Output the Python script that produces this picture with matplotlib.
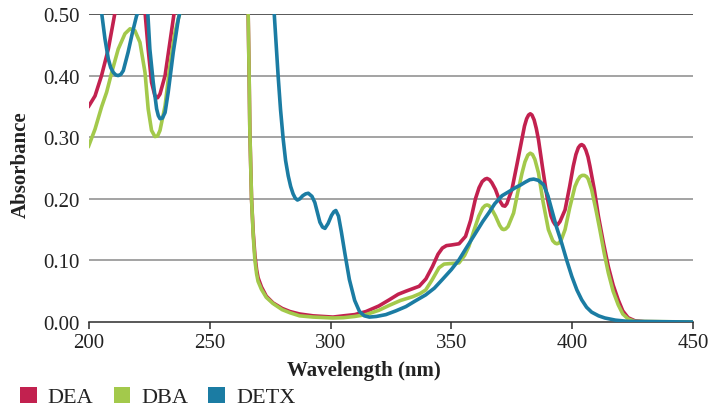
import numpy as np
import matplotlib.pyplot as plt
from matplotlib.patches import Patch

# wavelength (nm) / absorbance; values above 0.5 run off the plot
dea_wl = [199.7, 202.5, 205.2, 208, 210.8, 212.5, 221.5, 223.2, 224.5, 225.9, 227.3, 228.4,
          229.4, 231.5, 233.5, 235.3, 237, 264.8, 265.9, 266.3, 266.6, 267.3, 268, 268.7,
          269.4, 270, 271.4, 273.4, 276.2, 280, 283.2, 287.2, 292.8, 301, 305.3, 310, 314.7,
          320, 324.3, 328, 331.2, 336.7, 339.5, 342.2, 344.5, 346.3, 348, 350, 353.2, 355.9,
          358, 360, 361.5, 362.8, 364, 364.8, 365.8, 366.8, 368.3, 370, 371.3, 372.2, 373,
          375.1, 377.3, 379.3, 380.3, 381.2, 382, 382.7, 383.4, 384.3, 385.2, 386.1, 387.8,
          389.6, 391.3, 392.2, 393, 394, 395, 397.1, 399, 400.5, 401.6, 402.6, 403.4, 404,
          404.8, 405.7, 406.6, 407.4, 409.2, 410.9, 413, 415, 417, 419.1, 421, 423.2, 426,
          430, 450]
dea_abs = [0.349, 0.367, 0.40, 0.443, 0.503, 0.56, 0.56, 0.503, 0.443, 0.389, 0.367, 0.364,
           0.37, 0.40, 0.454, 0.503, 0.56, 0.6, 0.50, 0.40, 0.31, 0.20, 0.145, 0.108,
           0.085, 0.072, 0.057, 0.042, 0.031, 0.022, 0.017, 0.013, 0.010, 0.008, 0.010, 0.012,
           0.017, 0.026, 0.036, 0.045, 0.050, 0.058, 0.070, 0.090, 0.110, 0.120, 0.124, 0.125,
           0.127, 0.139, 0.165, 0.200, 0.218, 0.228, 0.232, 0.233, 0.231, 0.226, 0.215, 0.197,
           0.189, 0.188, 0.192, 0.215, 0.258, 0.298, 0.318, 0.330, 0.336, 0.338, 0.336, 0.328,
           0.314, 0.296, 0.250, 0.204, 0.172, 0.163, 0.158, 0.158, 0.163, 0.182, 0.220, 0.253,
           0.272, 0.283, 0.287, 0.288, 0.286, 0.279, 0.268, 0.253, 0.215, 0.172, 0.128, 0.090,
           0.060, 0.036, 0.018, 0.007, 0.002, 0.0005, 0.0]

dba_wl = [199.7, 202.5, 205.2, 207.3, 209.4, 212.1, 214.9, 217, 219, 221.1, 223.2, 224.5,
          225.9, 227.3, 228.4, 229.4, 231.5, 233.5, 235.6, 237.7, 239, 264.8, 265.9, 266.3,
          266.6, 267.3, 268, 268.7, 269.4, 270, 271.4, 273.4, 276.2, 280, 283.2, 287.2, 292.8,
          301, 305.3, 310, 314.7, 320, 324.3, 329, 334, 337, 339.4, 342, 344.9, 347, 350,
          353.2, 355.5, 357.3, 359.5, 361.4, 363, 364, 364.8, 365.6, 366.5, 368.3, 370, 371,
          371.7, 372.5, 373.5, 375.8, 377.5, 379.3, 380.5, 381.7, 382.7, 383.6, 384.6, 386.1,
          388, 390.2, 392, 393, 393.7, 394.5, 395.5, 397.1, 399, 401.2, 402.3, 403.3, 404.2,
          405.1, 406, 406.7, 408.1, 410, 411.5, 413.3, 415, 417, 419.1, 421, 423.2, 426, 450]
dba_abs = [0.284, 0.313, 0.349, 0.373, 0.405, 0.443, 0.468, 0.476, 0.473, 0.454, 0.405, 0.346,
           0.311, 0.301, 0.302, 0.311, 0.351, 0.416, 0.47, 0.503, 0.56, 0.6, 0.50, 0.40,
           0.31, 0.20, 0.14, 0.10, 0.078, 0.066, 0.053, 0.040, 0.030, 0.020, 0.015, 0.010,
           0.008, 0.0065, 0.007, 0.009, 0.012, 0.019, 0.027, 0.035, 0.041, 0.046, 0.052,
           0.068, 0.088, 0.094, 0.095, 0.096, 0.108, 0.123, 0.150, 0.172, 0.185, 0.189, 0.190,
           0.189, 0.185, 0.172, 0.157, 0.151, 0.150, 0.151, 0.155, 0.177, 0.210, 0.242, 0.260,
           0.271, 0.274, 0.272, 0.264, 0.242, 0.195, 0.150, 0.132, 0.128, 0.127, 0.128, 0.133,
           0.150, 0.185, 0.220, 0.230, 0.236, 0.238, 0.238, 0.236, 0.232, 0.215, 0.180, 0.150,
           0.112, 0.080, 0.050, 0.028, 0.013, 0.005, 0.001, 0.0]

detx_wl = [204.5, 205.2, 206.6, 208, 209, 210.1, 211.1, 212.1, 213.2, 214.2, 216.2, 218,
           219.7, 221.1, 222.7, 224.3, 225.2, 226.6, 228, 228.7, 229.4, 230.4, 231.5, 232.8,
           234.9, 237, 237.7, 239, 276, 276.7, 277.5, 278.3, 279.3, 280.4, 281.4, 282.5,
           283.5, 284.5, 285.4, 286.3, 287.3, 288.5, 289.7, 290.8, 292.3, 293.5, 295.6, 296.7,
           297.7, 299, 300.4, 301.4, 302.2, 303.3, 304.5, 306, 307.8, 310, 312, 314, 316.1,
           319, 322.9, 327, 331.2, 335, 339.4, 343, 346.3, 350, 353.2, 356.5, 360, 363, 365.5,
           368, 371, 374, 376.5, 378.5, 380.6, 382.5, 384.1, 386, 388.2, 390, 391.6, 393.5,
           395.7, 397.8, 399.9, 402, 404, 406, 408.1, 411, 413.6, 418, 423.2, 450]
detx_abs = [0.54, 0.503, 0.46, 0.427, 0.413, 0.405, 0.401, 0.40, 0.402, 0.408, 0.438, 0.47,
            0.497, 0.51, 0.52, 0.505, 0.443, 0.389, 0.346, 0.335, 0.330, 0.331, 0.34, 0.373,
            0.438, 0.492, 0.503, 0.56, 0.6, 0.50, 0.45, 0.40, 0.345, 0.297, 0.262, 0.237,
            0.220, 0.208, 0.201, 0.198, 0.200, 0.205, 0.208, 0.209, 0.204, 0.194, 0.162, 0.154,
            0.152, 0.160, 0.173, 0.179, 0.181, 0.172, 0.146, 0.110, 0.069, 0.035, 0.017, 0.010,
            0.008, 0.009, 0.012, 0.018, 0.025, 0.034, 0.044, 0.055, 0.069, 0.085, 0.101, 0.122,
            0.144, 0.163, 0.177, 0.192, 0.205, 0.212, 0.218, 0.222, 0.227, 0.231, 0.232, 0.230,
            0.223, 0.205, 0.182, 0.155, 0.128, 0.100, 0.074, 0.052, 0.036, 0.024, 0.016, 0.010,
            0.0065, 0.003, 0.001, 0.0]

names = ["DEA", "DBA", "DETX"]
colors = ["#c2214f", "#a3c94b", "#1b7ca3"]
yticks = [0.0, 0.1, 0.2, 0.3, 0.4, 0.5]
xticks = [200, 250, 300, 350, 400, 450]

plt.rcParams['font.family'] = ['Liberation Serif', 'DejaVu Serif']

fig = plt.figure(figsize=(7.27, 4.14), dpi=100)
ax = fig.add_axes([0.1224, 0.2198, 0.8306, 0.744])

for y in yticks[1:-1]:
    ax.axhline(y, color="#8a8a8a", lw=1.1, zorder=1)
ax.axhline(0.5, color="#2b2b2b", lw=1.1, zorder=1)

series = [(dea_wl, dea_abs), (dba_wl, dba_abs), (detx_wl, detx_abs)]
for (wl, ab), c in zip(series, colors):
    ax.plot(wl, ab, color=c, lw=2.6, solid_joinstyle="round", solid_capstyle="round", zorder=3)

ax.set_xlim(200, 450)
ax.set_ylim(0, 0.5)
ax.set_xticks(xticks)
ax.set_yticks(yticks)
ax.set_yticklabels(["%.2f" % v for v in yticks])
for s in ["left", "right", "top"]:
    ax.spines[s].set_visible(False)
ax.spines["bottom"].set_color("#2b2b2b")
ax.spines["bottom"].set_linewidth(1.1)
ax.spines["bottom"].set_zorder(2)
ax.tick_params(axis="x", length=5, width=1.1, color="#2b2b2b", labelsize=15, pad=3,
               labelcolor="#222222")
ax.tick_params(axis="y", length=0, labelsize=15, pad=7, labelcolor="#222222")

ax.set_xlabel("Wavelength (nm)", fontsize=15, fontweight="bold", color="#222222", va="center")
ax.xaxis.set_label_coords(0.455, -0.156)
ax.set_ylabel("Absorbance", fontsize=15, fontweight="bold", color="#222222", va="center")
ax.yaxis.set_label_coords(-0.113, 0.513)

handles = [Patch(facecolor=c, edgecolor="none") for c in colors]
fig.legend(handles, names, loc="lower left", bbox_to_anchor=(0.0, -0.035), ncol=3,
           frameon=False, fontsize=16, handlelength=0.75, handleheight=0.75,
           handletextpad=0.5, columnspacing=0.9, labelcolor="#222222")

fig.savefig("out.png", dpi=100)
